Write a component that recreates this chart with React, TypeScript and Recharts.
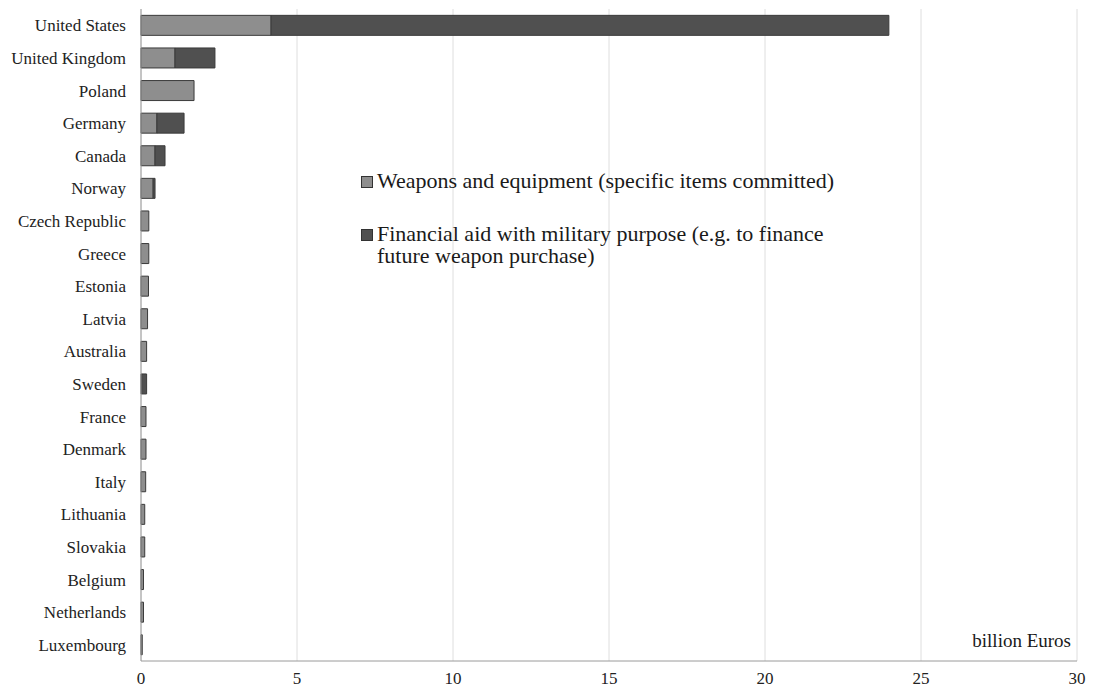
import React from "react";
import {
  BarChart,
  Bar,
  XAxis,
  YAxis,
  CartesianGrid,
} from "recharts";

const countries = [
  "United States",
  "United Kingdom",
  "Poland",
  "Germany",
  "Canada",
  "Norway",
  "Czech Republic",
  "Greece",
  "Estonia",
  "Latvia",
  "Australia",
  "Sweden",
  "France",
  "Denmark",
  "Italy",
  "Lithuania",
  "Slovakia",
  "Belgium",
  "Netherlands",
  "Luxembourg",
];

// billion Euros
const weapons = [4.17, 1.09, 1.7, 0.51, 0.45, 0.39, 0.25, 0.25, 0.24, 0.21, 0.18, 0.02, 0.16, 0.16, 0.15, 0.12, 0.12, 0.08, 0.08, 0.04];
const financial = [19.8, 1.28, 0, 0.87, 0.32, 0.06, 0, 0, 0, 0, 0, 0.16, 0, 0, 0, 0, 0, 0, 0, 0];

const xTicks = [0, 5, 10, 15, 20, 25, 30];

const legendItems = [
  { label: "Weapons and equipment (specific items committed)", color: "#8e8e8e" },
  { label: "Financial aid with military purpose (e.g. to finance future weapon purchase)", color: "#505050" },
];

const data = countries.map((country, i) => ({
  country,
  weapons: weapons[i],
  financial: financial[i],
}));

const FONT = "'Liberation Serif', 'Times New Roman', serif";

function LegendBox() {
  return (
    <div
      style={{
        position: "absolute",
        left: 361,
        top: 170,
        width: 470,
        fontFamily: FONT,
        fontSize: 22,
        color: "#1a1a1a",
      }}
    >
      {legendItems.map((it, i) => (
        <div
          key={it.label}
          style={{
            display: "flex",
            alignItems: "flex-start",
            lineHeight: "22px",
            marginBottom: i === 0 ? 31 : 0,
            whiteSpace: i === 0 ? "nowrap" : "normal",
          }}
        >
          <span
            style={{
              display: "inline-block",
              width: 10,
              height: 10,
              background: it.color,
              border: "1px solid #333",
              marginTop: 6,
              marginRight: 4,
              flexShrink: 0,
            }}
          />
          <span>{it.label}</span>
        </div>
      ))}
    </div>
  );
}

export default function App() {
  return (
    <div style={{ position: "relative", width: 1095, height: 692, background: "#fff" }}>
      <style>{`body{margin:0}`}</style>
      <BarChart
        width={1095}
        height={692}
        data={data}
        layout="vertical"
        margin={{ top: 9, right: 18, bottom: 1, left: 0 }}
        barCategoryGap="19.5%"
      >
        <CartesianGrid horizontal={false} stroke="#dedede" />
        <XAxis
          type="number"
          domain={[0, 30]}
          ticks={xTicks}
          height={30}
          tickLine={false}
          tickMargin={5}
          axisLine={{ stroke: "#9a9a9a" }}
          tick={{ fontFamily: FONT, fontSize: 17, fill: "#222" }}
        />
        <YAxis
          type="category"
          dataKey="country"
          width={141}
          tickLine={false}
          tickMargin={9}
          axisLine={{ stroke: "#9a9a9a" }}
          interval={0}
          tick={{ fontFamily: FONT, fontSize: 17, fill: "#222" }}
        />
        <Bar
          dataKey="weapons"
          stackId="a"
          fill="#8e8e8e"
          stroke="#3a3a3a"
          strokeWidth={1}
          isAnimationActive={false}
        />
        <Bar
          dataKey="financial"
          stackId="a"
          fill="#505050"
          stroke="#3a3a3a"
          strokeWidth={1}
          isAnimationActive={false}
        />
      </BarChart>
      <LegendBox />
      <div
        style={{
          position: "absolute",
          right: 24,
          top: 630,
          fontFamily: FONT,
          fontSize: 19,
          color: "#1a1a1a",
        }}
      >
        billion Euros
      </div>
    </div>
  );
}
